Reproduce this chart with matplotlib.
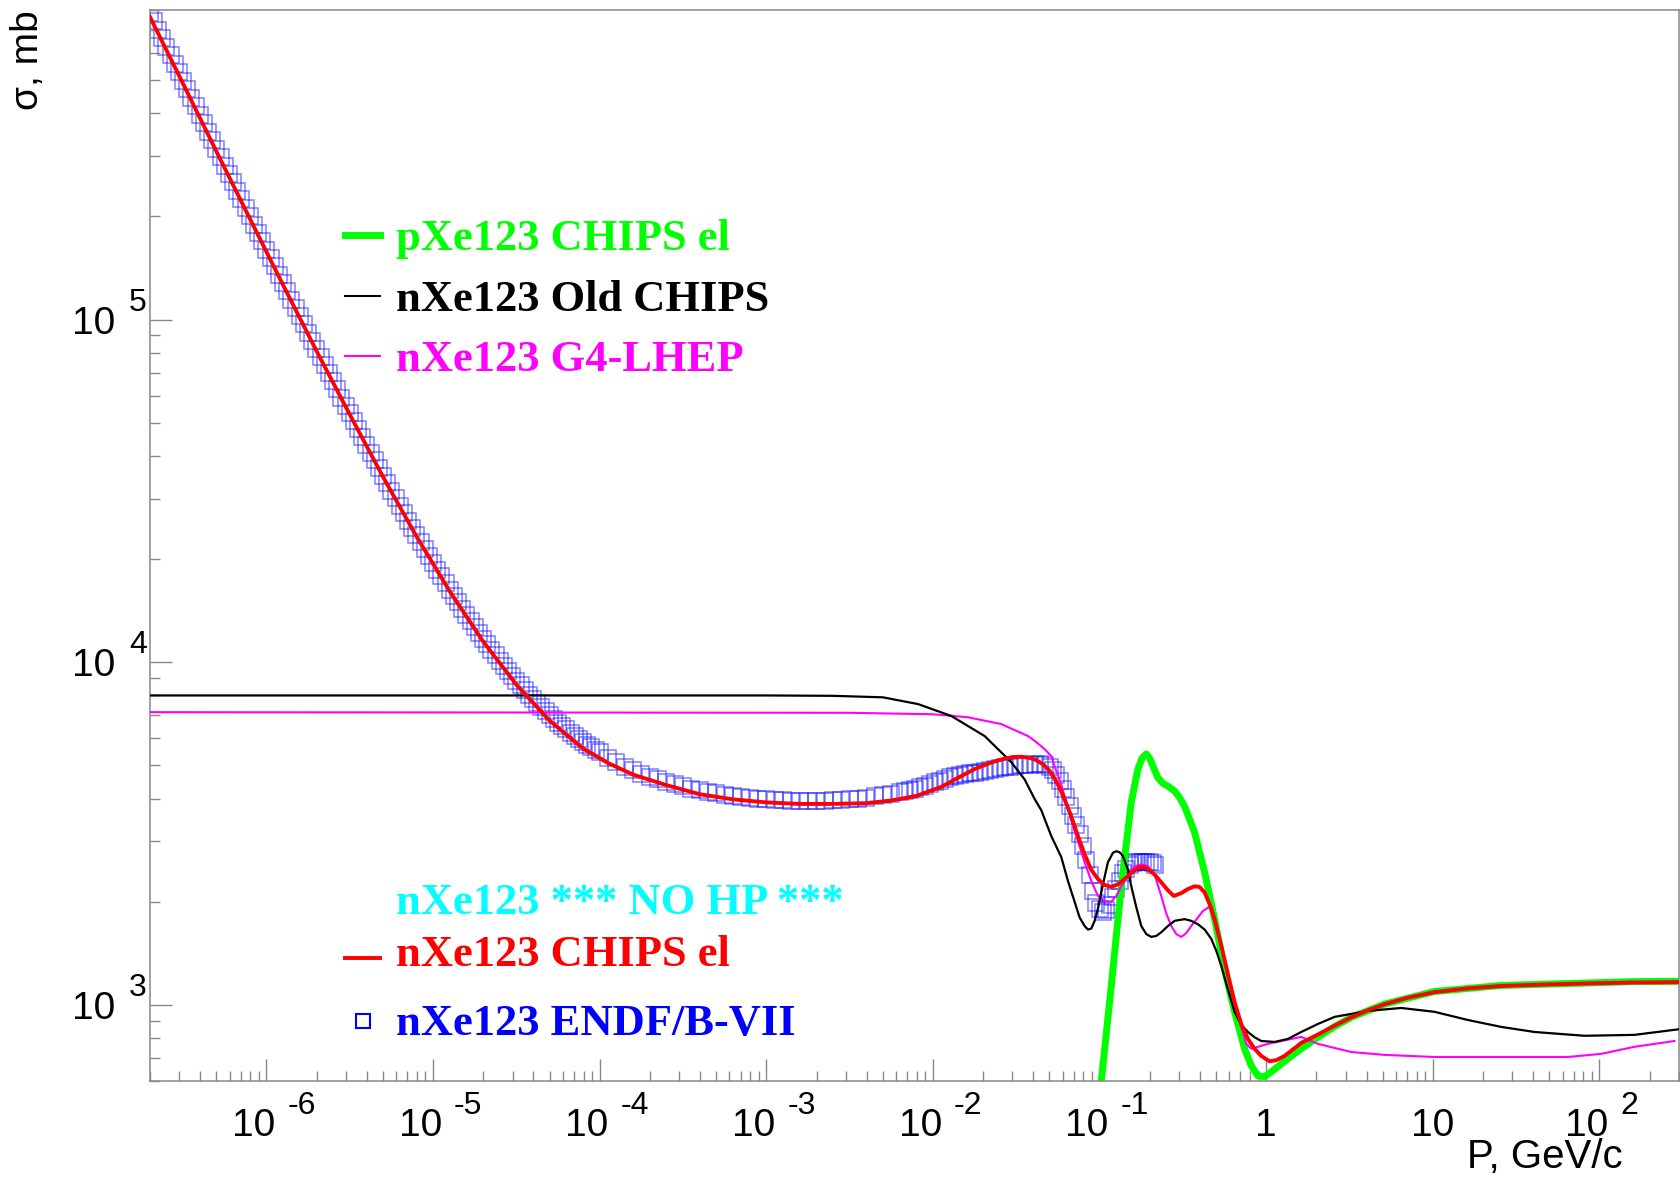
import matplotlib
matplotlib.use('Agg')
import matplotlib.pyplot as plt
from matplotlib.ticker import LogLocator, NullFormatter
from matplotlib.transforms import ScaledTranslation, blended_transform_factory

# ENDF/B-VII n + Xe123 points: log10(P [GeV/c]) and sigma [mb]
endf_logp = [
    -6.700, -6.675, -6.650, -6.625, -6.600, -6.575, -6.550, -6.525, -6.500, -6.475,
    -6.450, -6.425, -6.400, -6.375, -6.350, -6.325, -6.300, -6.275, -6.250, -6.225,
    -6.200, -6.175, -6.150, -6.125, -6.100, -6.075, -6.050, -6.025, -6.000, -5.975,
    -5.950, -5.925, -5.900, -5.875, -5.850, -5.825, -5.800, -5.775, -5.750, -5.725,
    -5.700, -5.675, -5.650, -5.625, -5.600, -5.575, -5.550, -5.525, -5.500, -5.475,
    -5.450, -5.425, -5.400, -5.375, -5.350, -5.325, -5.300, -5.275, -5.250, -5.225,
    -5.200, -5.175, -5.150, -5.125, -5.100, -5.075, -5.050, -5.025, -5.000, -4.975,
    -4.950, -4.925, -4.900, -4.875, -4.850, -4.825, -4.800, -4.775, -4.750, -4.725,
    -4.700, -4.675, -4.650, -4.625, -4.600, -4.575, -4.550, -4.525, -4.500, -4.475,
    -4.450, -4.425, -4.400, -4.375, -4.350, -4.325, -4.300, -4.275, -4.250, -4.225,
    -4.200, -4.175, -4.150, -4.125, -4.100, -4.075, -4.050, -4.025, -4.000,
    -3.95, -3.90, -3.85, -3.80, -3.75, -3.70, -3.65, -3.60, -3.55, -3.50,
    -3.45, -3.40, -3.35, -3.30, -3.25, -3.20, -3.15, -3.10, -3.05, -3.00,
    -2.95, -2.90, -2.85, -2.80, -2.75, -2.70, -2.65, -2.60, -2.55, -2.50,
    -2.45, -2.40, -2.35, -2.30, -2.25,
    -2.20, -2.17, -2.14, -2.11, -2.08, -2.05, -2.02, -1.99, -1.96, -1.93,
    -1.90, -1.87, -1.84, -1.81, -1.78, -1.75, -1.72, -1.69, -1.66, -1.63,
    -1.60, -1.57, -1.54, -1.51, -1.48, -1.45, -1.42, -1.39, -1.36, -1.33,
    -1.30, -1.28, -1.26, -1.24, -1.22, -1.20, -1.18, -1.16, -1.14, -1.12,
    -1.10, -1.08, -1.06, -1.04, -1.02, -1.00, -0.98, -0.96, -0.94, -0.92,
    -0.90, -0.88, -0.86, -0.84, -0.82, -0.80, -0.78, -0.76, -0.74, -0.72,
    -0.70, -0.68, -0.67,
]
endf_sigma = [
    785500, 741800, 700500, 661600, 624800, 590100, 557300, 526300, 497100, 469500,
    443500, 418900, 395700, 373800, 353100, 333600, 315100, 297700, 281300, 265800,
    251100, 237300, 224200, 211900, 200300, 189300, 178900, 169100, 159900, 151200,
    142900, 135100, 127800, 120900, 114300, 108100, 102300, 96800, 91600, 86700,
    82100, 77700, 73600, 69700, 66000, 62500, 59200, 56100, 53200, 50400,
    47800, 45400, 43100, 40900, 38800, 36800, 35000, 33300, 31600, 30100,
    28600, 27200, 25900, 24700, 23500, 22400, 21400, 20400, 19500, 18600,
    17800, 17000, 16300, 15600, 14940, 14320, 13740, 13190, 12670, 12180,
    11720, 11280, 10870, 10480, 10110, 9760, 9430, 9120, 8830, 8560,
    8300, 8050, 7820, 7600, 7390, 7200, 7010, 6840, 6670, 6520,
    6370, 6230, 6100, 5980, 5860, 5750, 5650, 5550, 5460,
    5250, 5100, 4960, 4840, 4730, 4630, 4550, 4470, 4400, 4340,
    4280, 4230, 4190, 4150, 4110, 4080, 4050, 4020, 4000, 3980,
    3960, 3950, 3940, 3930, 3930, 3930, 3940, 3950, 3960, 3980,
    4000, 4030, 4060, 4100, 4140,
    4180, 4210, 4250, 4280, 4320, 4350, 4400, 4460, 4500, 4560,
    4630, 4670, 4700, 4720, 4740, 4760, 4790, 4820, 4850, 4880,
    4910, 4940, 4960, 4990, 5010, 5020, 5030, 5040, 5040, 5020,
    4960, 4850, 4700, 4500, 4280, 4050, 3800, 3560, 3340, 3150,
    2900, 2650, 2400, 2150, 1980, 1900, 1870, 1890, 1960, 2060,
    2180, 2300, 2420, 2500, 2560, 2600, 2620, 2620, 2620, 2620,
    2610, 2590, 2560,
]

# CHIPS elastic, n + Xe123
chips_n_logp = [
    -6.70, -6.50, -6.30, -6.10, -5.90, -5.70, -5.50, -5.30, -5.10, -4.90,
    -4.70, -4.50, -4.30, -4.10, -3.95, -3.80, -3.60, -3.40, -3.20, -3.00,
    -2.80, -2.60, -2.40, -2.25, -2.10, -1.95, -1.85, -1.75, -1.65, -1.58,
    -1.52, -1.47, -1.42, -1.38, -1.34, -1.30, -1.27, -1.24, -1.21, -1.17,
    -1.13, -1.09, -1.05, -1.01, -0.97, -0.93, -0.89, -0.85, -0.80, -0.77,
    -0.74, -0.71, -0.67, -0.63, -0.59, -0.555, -0.51, -0.47, -0.43, -0.40,
    -0.37, -0.34, -0.31, -0.27, -0.23, -0.19, -0.15, -0.11, -0.07, -0.03,
    0.02, 0.06, 0.11, 0.21, 0.31, 0.41, 0.51, 0.61, 0.71, 0.85,
    1.01, 1.21, 1.41, 1.61, 1.81, 2.01, 2.21, 2.49,
]
chips_n_sigma = [
    765000, 487000, 309000, 197000, 126000, 81000, 52800, 34700, 23300, 16100,
    11500, 8600, 6750, 5600, 5080, 4700, 4380, 4120, 3980, 3900,
    3860, 3860, 3880, 3950, 4070, 4330, 4600, 4880, 5100, 5220,
    5290, 5300, 5260, 5180, 5040, 4820, 4580, 4300, 3980, 3550,
    3110, 2750, 2480, 2330, 2240, 2210, 2250, 2330, 2450, 2510,
    2530, 2490, 2400, 2280, 2160, 2080, 2120, 2180, 2220, 2210,
    2130, 1970, 1780, 1490, 1230, 1020, 880, 796, 745, 710,
    685, 690, 710, 775, 820, 870, 920, 965, 1005, 1050,
    1090, 1118, 1136, 1145, 1152, 1158, 1163, 1166,
]

# CHIPS elastic, p + Xe123
chips_p_logp = [
    -1.00, -0.99, -0.93, -0.87, -0.81, -0.77, -0.745, -0.72, -0.70, -0.68,
    -0.65, -0.62, -0.59, -0.55, -0.52, -0.49, -0.43, -0.37, -0.31, -0.25,
    -0.19, -0.13, -0.09, -0.05, -0.01, 0.03, 0.13, 0.21, 0.31, 0.41,
    0.51, 0.71, 1.01, 1.41, 1.81, 2.21, 2.49,
]
chips_p_sigma = [
    540, 600, 1135, 2220, 3910, 4880, 5250, 5400, 5250, 4980,
    4600, 4430, 4350, 4210, 4030, 3800, 3190, 2440, 1780, 1270,
    955, 745, 665, 621, 618, 638, 697, 745, 805, 865,
    920, 1006, 1095, 1140, 1155, 1170, 1172,
]

# Old CHIPS, n + Xe123
old_chips_logp = [
    -6.70, -3.00, -2.60, -2.30, -2.09, -1.89, -1.69, -1.53, -1.45, -1.39,
    -1.35, -1.29, -1.23, -1.19, -1.15, -1.12, -1.09, -1.07, -1.05, -1.03,
    -1.01, -0.98, -0.95, -0.92, -0.90, -0.88, -0.86, -0.83, -0.81, -0.78,
    -0.75, -0.72, -0.69, -0.66, -0.63, -0.59, -0.55, -0.49, -0.45, -0.41,
    -0.37, -0.33, -0.30, -0.27, -0.23, -0.19, -0.15, -0.11, -0.07, -0.03,
    0.05, 0.13, 0.21, 0.31, 0.41, 0.61, 0.81, 1.01, 1.21, 1.41,
    1.61, 1.91, 2.21, 2.49,
]
old_chips_sigma = [
    8000, 8000, 7980, 7900, 7550, 6970, 6090, 5110, 4550, 3990,
    3700, 3110, 2700, 2300, 2000, 1800, 1700, 1660, 1670, 1760,
    1910, 2250, 2610, 2780, 2810, 2790, 2720, 2480, 2220, 1930,
    1700, 1610, 1580, 1590, 1630, 1700, 1760, 1780, 1760, 1720,
    1660, 1560, 1440, 1300, 1110, 955, 875, 834, 805, 785,
    780, 796, 834, 880, 923, 961, 980, 955, 904, 863,
    834, 813, 818, 851,
]

# G4-LHEP, n + Xe123
lhep_logp = [
    -6.70, -2.50, -2.00, -1.79, -1.59, -1.43, -1.39, -1.33, -1.29, -1.27,
    -1.23, -1.17, -1.13, -1.09, -1.05, -1.01, -0.97, -0.93, -0.90, -0.87,
    -0.83, -0.79, -0.75, -0.71, -0.67, -0.63, -0.60, -0.57, -0.54, -0.51,
    -0.48, -0.45, -0.41, -0.38, -0.33, -0.27, -0.19, -0.12, -0.09, 0.01,
    0.21, 0.31, 0.51, 0.71, 1.01, 1.41, 1.81, 2.01, 2.21, 2.45,
]
lhep_sigma = [
    7150, 7120, 7050, 6910, 6600, 6090, 5900, 5580, 5320, 4970,
    4400, 3450, 3000, 2610, 2300, 2080, 2010, 2000, 2080, 2220,
    2400, 2540, 2570, 2540, 2400, 2080, 1850, 1700, 1610, 1580,
    1620, 1700, 1800, 1880, 1950, 1500, 1000, 770, 745, 770,
    807, 770, 729, 715, 705, 705, 705, 720, 755, 785,
]

x_label_exps = [-6, -5, -4, -3, -2, -1, 2]
x_label_plain = [1, 10]
y_label_exps = [3, 4, 5]

legend_top = [
    ('pXe123 CHIPS el', '#00ff00', 5.0),
    ('nXe123 Old CHIPS', 'black', 1.5),
    ('nXe123 G4-LHEP', '#ff00ff', 1.5),
]
legend_top_y = [0.7759, 0.7190, 0.6629]
legend_bottom_y = [0.156, 0.107, 0.043]

fig = plt.figure(figsize=(16.8, 11.79), dpi=100)
ax = fig.add_axes([150 / 1680, 1 - 1081 / 1179, 1529 / 1680, 1071 / 1179])
ax.set_xscale('log')
ax.set_yscale('log')


def lin(vals):
    return [10.0 ** v for v in vals]


ax.plot(lin(endf_logp), endf_sigma, linestyle='none', marker='s', markersize=11,
        markerfacecolor='none', markeredgecolor='#0000ff', markeredgewidth=1.1,
        alpha=0.5, zorder=1)
ax.plot(lin(chips_p_logp), chips_p_sigma, color='#00ff00', lw=5.0, zorder=2,
        solid_joinstyle='round')
ax.plot(lin(lhep_logp), lhep_sigma, color='#ff00ff', lw=1.5, zorder=3)
ax.plot(lin(old_chips_logp), old_chips_sigma, color='black', lw=1.6, zorder=4)
ax.plot(lin(chips_n_logp), chips_n_sigma, color='#ff0000', lw=2.8, zorder=5)

ax.set_xlim(2.0e-7, 300)
ax.set_ylim(600, 8.0e5)

# ROOT-like frame: inner ticks on bottom and left only
for s in ax.spines.values():
    s.set_color('#888888')
    s.set_linewidth(1.1)
ax.xaxis.set_minor_locator(LogLocator(base=10, subs=range(2, 10), numticks=50))
ax.yaxis.set_minor_locator(LogLocator(base=10, subs=range(2, 10), numticks=50))
ax.xaxis.set_minor_formatter(NullFormatter())
ax.yaxis.set_minor_formatter(NullFormatter())
ax.tick_params(which='both', direction='in', color='#888888', width=1.0,
               top=False, right=False, labelbottom=False, labelleft=False)
ax.tick_params(which='major', length=15.8)
ax.tick_params(which='minor', length=7.2)

axis_font = dict(family='Liberation Sans', color='black')


def shift(dx, dy):
    return ScaledTranslation(dx / 100, dy / 100, fig.dpi_scale_trans)


xtr = blended_transform_factory(ax.transData, ax.transAxes)
for e in x_label_exps:
    ax.text(10.0 ** e, 0, '10', transform=xtr + shift(9, -55), ha='right',
            va='baseline', fontsize=28, **axis_font)
    ax.text(10.0 ** e, 0, str(e), transform=xtr + shift(21, -33), ha='left',
            va='baseline', fontsize=23, **axis_font)
for v in x_label_plain:
    ax.text(v, 0, str(v), transform=xtr + shift(0, -55), ha='center',
            va='baseline', fontsize=28, **axis_font)

ytr = blended_transform_factory(ax.transAxes, ax.transData)
for e in y_label_exps:
    ax.text(0, 10.0 ** e, '10', transform=ytr + shift(-35, -14), ha='right',
            va='baseline', fontsize=28, **axis_font)
    ax.text(0, 10.0 ** e, str(e), transform=ytr + shift(-21, 9), ha='left',
            va='baseline', fontsize=23, **axis_font)

fig.text(1623 / 1680, 1 - 1168 / 1179, 'P, GeV/c', ha='right', va='baseline',
         fontsize=29, **axis_font)
fig.text(28 / 1680, 1 - 10 / 1179, 'σ, mb', rotation=90, ha='center', va='top',
         fontsize=28, **axis_font)

# legend entries
leg_font = dict(family='Liberation Serif', weight='bold', fontsize=32)
tx, kx0, kx1 = 0.1609, 0.1275, 0.1505
for (label, color, lw), y in zip(legend_top, legend_top_y):
    ax.plot([kx0, kx1], [y + 0.014, y + 0.014], color=color, lw=lw,
            transform=ax.transAxes, clip_on=False)
    ax.text(tx, y, label, color=color, transform=ax.transAxes, va='baseline',
            **leg_font)

ax.text(tx, legend_bottom_y[0], 'nXe123 *** NO HP ***', color='#00ffff',
        transform=ax.transAxes, va='baseline', **leg_font)
ax.plot([kx0, kx1], [legend_bottom_y[1] + 0.008] * 2, color='#ff0000', lw=2.8,
        transform=ax.transAxes, clip_on=False)
ax.text(tx, legend_bottom_y[1], 'nXe123 CHIPS el', color='#ff0000',
        transform=ax.transAxes, va='baseline', **leg_font)
ax.plot([(kx0 + kx1) / 2], [legend_bottom_y[2] + 0.013], linestyle='none',
        marker='s', markersize=10, markerfacecolor='none',
        markeredgecolor='#0000ff', markeredgewidth=1.5,
        transform=ax.transAxes, clip_on=False)
ax.text(tx, legend_bottom_y[2], 'nXe123 ENDF/B-VII', color='#0000ff',
        transform=ax.transAxes, va='baseline', **leg_font)

fig.savefig('out.png', dpi=100)
